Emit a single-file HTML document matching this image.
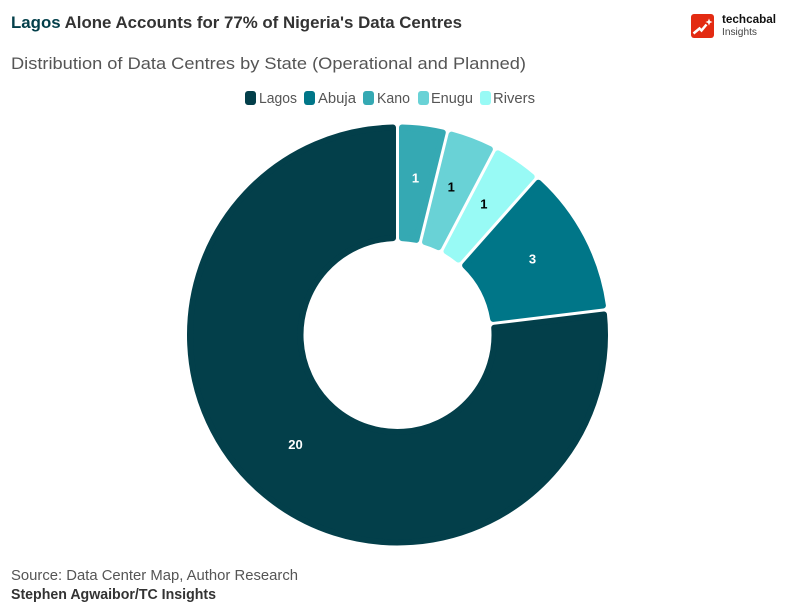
<!DOCTYPE html>
<html lang="en">
<head>
<meta charset="utf-8">
<title>Lagos Alone Accounts for 77% of Nigeria's Data Centres</title>
<style>
html,body{margin:0;padding:0;background:#fff;}
body{width:794px;height:613px;overflow:hidden;}
svg{display:block;font-family:"Liberation Sans",sans-serif;}
</style>
</head>
<body>
<svg id="chart" xmlns="http://www.w3.org/2000/svg" width="794" height="613" viewBox="0 0 794 613">
  <rect width="794" height="613" fill="#ffffff"/>
  <text x="11" y="28" font-size="17" font-weight="700" fill="#333333" textLength="451" lengthAdjust="spacingAndGlyphs"><tspan fill="#033f4a">Lagos</tspan> Alone Accounts for 77% of Nigeria's Data Centres</text>
  <text x="11" y="69" font-size="17" fill="#555555" textLength="515" lengthAdjust="spacingAndGlyphs">Distribution of Data Centres by State (Operational and Planned)</text>

  <g font-size="14.5" fill="#555555">
    <g>
      <rect x="245" y="91" width="11" height="14" rx="3" fill="#033f4a"/>
      <text x="259" y="103" textLength="38" lengthAdjust="spacingAndGlyphs">Lagos</text>
    </g>
    <g>
      <rect x="304" y="91" width="11" height="14" rx="3" fill="#007688"/>
      <text x="318" y="103" textLength="38" lengthAdjust="spacingAndGlyphs">Abuja</text>
    </g>
    <g>
      <rect x="363" y="91" width="11" height="14" rx="3" fill="#35a9b3"/>
      <text x="377" y="103" textLength="33" lengthAdjust="spacingAndGlyphs">Kano</text>
    </g>
    <g>
      <rect x="418" y="91" width="11" height="14" rx="3" fill="#69d2d6"/>
      <text x="431" y="103" textLength="42" lengthAdjust="spacingAndGlyphs">Enugu</text>
    </g>
    <g>
      <rect x="480" y="91" width="11" height="14" rx="3" fill="#98faf5"/>
      <text x="493" y="103" textLength="42" lengthAdjust="spacingAndGlyphs">Rivers</text>
    </g>
  </g>

  <g id="slices"></g>
  <g id="labels" font-size="13" font-weight="700" text-anchor="middle"></g>

  <g>
    <rect x="691" y="14" width="23" height="24" rx="3" fill="#e32b12"/>
    <path d="M693.500 33.500 L699.500 28.500 L701.500 30.500 L706.500 24.500" fill="none" stroke="#ffffff" stroke-width="2.500"/>
    <path d="M709 18.500 L710 21 L712.500 22 L710 23 L709 25.500 L708 23 L705.500 22 L708 21 Z" fill="#ffffff"/>
    <text x="722" y="23" font-size="12" font-weight="700" fill="#111111" textLength="54" lengthAdjust="spacingAndGlyphs">techcabal</text>
    <text x="722" y="35" font-size="10.500" fill="#444444" textLength="35" lengthAdjust="spacingAndGlyphs">Insights</text>
  </g>

  <text x="11" y="580" font-size="14.500" fill="#555555" textLength="287" lengthAdjust="spacingAndGlyphs">Source: Data Center Map, Author Research</text>
  <text x="11" y="599" font-size="14.500" font-weight="700" fill="#333333" textLength="205" lengthAdjust="spacingAndGlyphs">Stephen Agwaibor/TC Insights</text>
</svg>
<script>
const categories = ['Kano', 'Enugu', 'Rivers', 'Abuja', 'Lagos'];
const values = [1, 1, 1, 3, 20];
const valueLabels = ['1', '1', '1', '3', '20'];

const fills = { Kano: '#35a9b3', Enugu: '#69d2d6', Rivers: '#98faf5', Abuja: '#007688', Lagos: '#033f4a' };
const inks = { Kano: '#ffffff', Enugu: '#000000', Rivers: '#000000', Abuja: '#ffffff', Lagos: '#ffffff' };

const NS = 'http://www.w3.org/2000/svg';
const cx = 397.5, cy = 335, outerR = 210.5, innerR = 94;
const corner = 3, halfGap = 1.5;
const total = values.reduce((a, b) => a + b, 0);

function angleScale(v) { return v / total * Math.PI * 2; }
function point(radius, angle) {
  return [cx + radius * Math.sin(angle), cy - radius * Math.cos(angle)];
}
function slicePath(a0, a1) {
  const rO = outerR - corner, rI = innerR + corner, d = halfGap + corner;
  const oA = Math.asin(d / rO), iA = Math.asin(d / rI);
  const p1 = point(rO, a0 + oA), p2 = point(rO, a1 - oA);
  const p3 = point(rI, a1 - iA), p4 = point(rI, a0 + iA);
  const large = (a1 - a0 - 2 * oA) > Math.PI ? 1 : 0;
  const largeI = (a1 - a0 - 2 * iA) > Math.PI ? 1 : 0;
  return 'M' + p1.join(' ') +
    ' A' + rO + ' ' + rO + ' 0 ' + large + ' 1 ' + p2.join(' ') +
    ' L' + p3.join(' ') +
    ' A' + rI + ' ' + rI + ' 0 ' + largeI + ' 0 ' + p4.join(' ') + ' Z';
}

const sliceGroup = document.getElementById('slices');
const labelGroup = document.getElementById('labels');
let running = 0;
categories.forEach(function (cat, i) {
  const a0 = angleScale(running);
  running += values[i];
  const a1 = angleScale(running);
  const key = cat.toLowerCase();

  const path = document.createElementNS(NS, 'path');
  path.setAttribute('d', slicePath(a0, a1));
  path.setAttribute('fill', fills[cat]);
  path.setAttribute('stroke', fills[cat]);
  path.setAttribute('stroke-width', corner * 2);
  path.setAttribute('stroke-linejoin', 'round');
  
  
  sliceGroup.appendChild(path);

  const pos = point(153, (a0 + a1) / 2);
  const label = document.createElementNS(NS, 'text');
  label.setAttribute('x', pos[0] - 0.5);
  label.setAttribute('y', pos[1] - 0.5);
  label.setAttribute('fill', inks[cat]);
  
  
  label.textContent = valueLabels[i];
  labelGroup.appendChild(label);
});
</script>
</body>
</html>
